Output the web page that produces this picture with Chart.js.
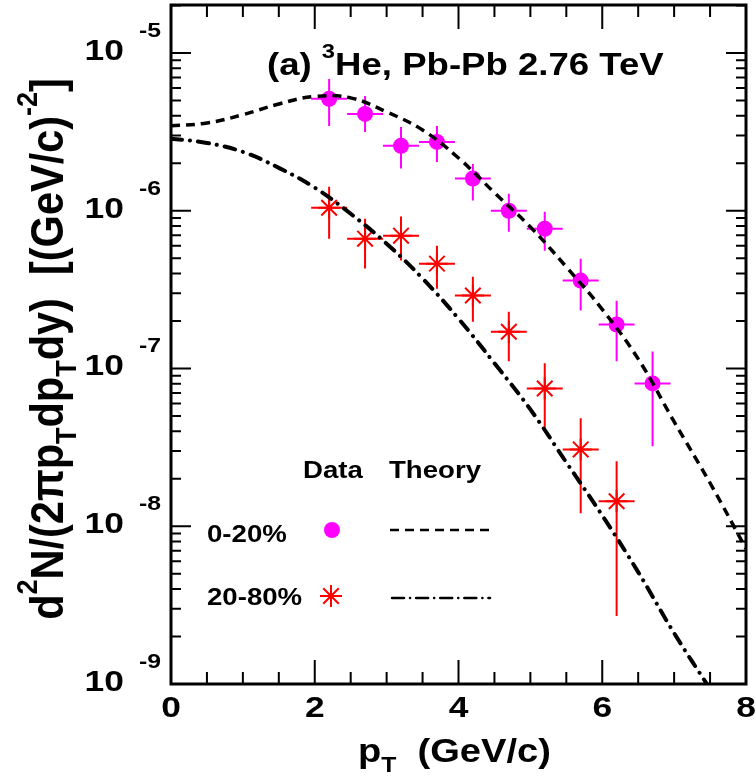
<!DOCTYPE html>
<html>
<head>
<meta charset="utf-8">
<script src="https://cdn.jsdelivr.net/npm/chart.js@4.4.1/dist/chart.umd.min.js"></script>
<style>
  body { margin: 0; background: #fff; }
  canvas { display: block; }
</style>
</head>
<body>
<canvas id="chart" width="755" height="779"></canvas>
<script>
// 3He spectra, Pb-Pb 2.76 TeV
const ptData = [2.2, 2.7, 3.2, 3.7, 4.2, 4.7, 5.2, 5.7, 6.2, 6.7];
const ptHalfWidth = 0.25;

const central = [5.12e-6, 4.11e-6, 2.58e-6, 2.73e-6, 1.60e-6, 1.0e-6, 7.69e-7, 3.61e-7, 1.90e-7, 8.04e-8];
const centralHi = [6.84e-6, 5.34e-6, 3.40e-6, 3.45e-6, 1.98e-6, 1.28e-6, 9.86e-7, 4.97e-7, 2.69e-7, 1.28e-7];
const centralLo = [3.45e-6, 3.16e-6, 1.85e-6, 2.04e-6, 1.16e-6, 7.36e-7, 5.58e-7, 2.33e-7, 1.11e-7, 3.21e-8];

const periph = [1.045e-6, 6.65e-7, 6.95e-7, 4.62e-7, 2.9e-7, 1.71e-7, 7.47e-8, 3.07e-8, 1.44e-8];
const periphHi = [1.42e-6, 8.9e-7, 9.2e-7, 6.0e-7, 3.82e-7, 2.29e-7, 1.08e-7, 4.83e-8, 2.58e-8];
const periphLo = [6.65e-7, 4.3e-7, 4.83e-7, 3.2e-7, 1.98e-7, 1.11e-7, 4.17e-8, 1.21e-8, 2.7e-9];

const theoryPt = [0, 0.5, 1, 1.5, 2, 2.5, 3, 3.5, 4, 4.5, 5, 5.5, 6, 6.5, 7, 7.5, 8];
const theoryCentral = [3.45e-6, 3.6e-6, 4.06e-6, 4.75e-6, 5.3e-6, 5.19e-6, 4.23e-6, 3.25e-6, 2.16e-6, 1.30e-6,
  7.89e-7, 4.4e-7, 2.37e-7, 1.15e-7, 4.6e-8, 1.88e-8, 7.2e-9];
const theoryPeriph = [2.86e-6, 2.69e-6, 2.36e-6, 1.87e-6, 1.40e-6, 9.57e-7, 6.18e-7, 3.72e-7, 2.07e-7, 1.08e-7,
  5.5e-8, 2.54e-8, 1.17e-8, 5.12e-9, 2.1e-9, 9.3e-10];

const xTickLabels = ["0", "2", "4", "6", "8"];
const yDecades = [-9, -8, -7, -6, -5];
const legendRows = ["0-20%", "20-80%"];

const FONT = '"Liberation Sans", Arial, Helvetica, sans-serif';
const MAGENTA = "#ff00ff";
const RED = "#ff0000";
const DASH = [9, 6];
const DASHDOT = [11, 8, 0.1, 8];

function fnt(size) {
  return "bold " + size + "px " + FONT;
}

// text with super/subscripts, parts = [[text, kind]]
function richWidth(ctx, parts, size) {
  let w = 0;
  for (const p of parts) {
    ctx.font = fnt(p[1] ? size * 0.65 : size);
    w += ctx.measureText(p[0]).width;
  }
  return w;
}

function drawRich(ctx, parts, x, y, size, align, sx, rot) {
  ctx.save();
  ctx.translate(x, y);
  ctx.scale(sx, 1);
  if (rot) ctx.rotate(-Math.PI / 2);
  const w = richWidth(ctx, parts, size);
  let cx = align === "center" ? -w / 2 : align === "right" ? -w : 0;
  ctx.textAlign = "left";
  ctx.textBaseline = "alphabetic";
  ctx.fillStyle = "#000";
  for (const p of parts) {
    let dy = 0;
    if (p[1] === "sup") dy = -size * 0.55;
    if (p[1] === "sub") dy = size * 0.28;
    ctx.font = fnt(p[1] ? size * 0.65 : size);
    ctx.fillText(p[0], cx, dy);
    cx += ctx.measureText(p[0]).width;
  }
  ctx.restore();
}

function drawStar(ctx, x, y, r) {
  const d = r * Math.SQRT1_2;
  ctx.beginPath();
  ctx.moveTo(x - r, y); ctx.lineTo(x + r, y);
  ctx.moveTo(x, y - r); ctx.lineTo(x, y + r);
  ctx.moveTo(x - d, y - d); ctx.lineTo(x + d, y + d);
  ctx.moveTo(x - d, y + d); ctx.lineTo(x + d, y - d);
  ctx.stroke();
}

const errorBars = {
  id: "errorBars",
  beforeDatasetsDraw(chart) {
    const { ctx, chartArea: a, scales: { x, y } } = chart;
    ctx.save();
    ctx.beginPath();
    ctx.rect(a.left, a.top, a.right - a.left, a.bottom - a.top);
    ctx.clip();
    ctx.lineWidth = 2;
    const sets = [
      [central, centralLo, centralHi, MAGENTA],
      [periph, periphLo, periphHi, RED]
    ];
    for (const [vals, lo, hi, col] of sets) {
      ctx.strokeStyle = col;
      vals.forEach((v, i) => {
        const px = x.getPixelForValue(ptData[i]);
        const py = y.getPixelForValue(v);
        ctx.beginPath();
        ctx.moveTo(px, y.getPixelForValue(lo[i]));
        ctx.lineTo(px, y.getPixelForValue(hi[i]));
        ctx.moveTo(x.getPixelForValue(ptData[i] - ptHalfWidth), py);
        ctx.lineTo(x.getPixelForValue(ptData[i] + ptHalfWidth), py);
        ctx.stroke();
      });
    }
    ctx.restore();
  }
};

const rootFrame = {
  id: "rootFrame",
  afterDraw(chart) {
    const { ctx, chartArea: a, scales: { x, y } } = chart;
    ctx.save();

    // ticks, pointing inwards on all four sides
    ctx.strokeStyle = "#000";
    ctx.lineWidth = 2;
    ctx.beginPath();
    for (let v = 0; v <= 8; v += 0.5) {
      const px = x.getPixelForValue(v);
      const len = v % 2 === 0 ? 24 : 12;
      ctx.moveTo(px, a.bottom); ctx.lineTo(px, a.bottom - len);
      ctx.moveTo(px, a.top); ctx.lineTo(px, a.top + len);
    }
    for (const d of yDecades) {
      for (let k = 1; k <= 9; k++) {
        const v = k * Math.pow(10, d);
        if (v > y.max) break;
        const py = y.getPixelForValue(v);
        const len = k === 1 ? 20 : 10;
        ctx.moveTo(a.left, py); ctx.lineTo(a.left + len, py);
        ctx.moveTo(a.right, py); ctx.lineTo(a.right - len, py);
      }
    }
    ctx.stroke();

    // frame
    ctx.lineWidth = 3;
    ctx.strokeRect(a.left, a.top, a.right - a.left, a.bottom - a.top);

    // y tick labels 10^n
    for (const d of yDecades) {
      const py = y.getPixelForValue(Math.pow(10, d));
      drawRich(ctx, [["10", ""]], 124, py + 7, 30, "right", 1.18);
      drawRich(ctx, [[String(d), ""]], 139, py - 16, 21, "left", 1.18);
    }
    // x tick labels
    xTickLabels.forEach(t => {
      drawRich(ctx, [[t, ""]], x.getPixelForValue(Number(t)), 717, 30, "center", 1.18);
    });

    // axis titles
    drawRich(ctx, [["p", ""], ["T", "sub"], ["  (GeV/c)", ""]], 358, 762, 34, "left", 1.12);
    const yParts = [["d", ""], ["2", "sup"], ["N/(2\u03c0p", ""], ["T", "sub"], ["dp", ""], ["T", "sub"],
      ["dy)  [(GeV/c)", ""], ["-2", "sup"], ["]", ""]];
    const ySize = 40 * 542 / richWidth(ctx, yParts, 40);
    drawRich(ctx, yParts, 63, 349, ySize, "center", 1.12, true);

    // panel label
    drawRich(ctx, [["(a) ", ""], ["3", "sup"], ["He, Pb-Pb 2.76 TeV", ""]], 267, 75, 31, "left", 1.18);

    // legend
    drawRich(ctx, [["Data", ""]], 303, 478, 24, "left", 1.15);
    drawRich(ctx, [["Theory", ""]], 389, 478, 24, "left", 1.15);
    drawRich(ctx, [[legendRows[0], ""]], 207, 542, 24, "left", 1.15);
    drawRich(ctx, [[legendRows[1], ""]], 207, 605, 24, "left", 1.15);

    ctx.fillStyle = MAGENTA;
    ctx.beginPath();
    ctx.arc(332, 530, 8, 0, Math.PI * 2);
    ctx.fill();
    ctx.strokeStyle = RED;
    ctx.lineWidth = 2;
    drawStar(ctx, 331, 596, 11);

    ctx.strokeStyle = "#000";
    ctx.lineWidth = 2.5;
    ctx.setLineDash(DASH);
    ctx.beginPath();
    ctx.moveTo(390, 530); ctx.lineTo(491, 530);
    ctx.stroke();
    ctx.setLineDash([12, 6, 0.1, 6]);
    ctx.lineCap = "round";
    ctx.beginPath();
    ctx.moveTo(392, 598); ctx.lineTo(490, 598);
    ctx.stroke();

    ctx.restore();
  }
};

const toXY = (xs, ys) => ys.map((v, i) => ({ x: xs[i], y: v }));

new Chart(document.getElementById("chart"), {
  type: "scatter",
  data: {
    datasets: [
      {
        type: "line",
        label: "Theory 0-20%",
        data: toXY(theoryPt, theoryCentral),
        borderColor: "#000",
        borderWidth: 3.5,
        borderDash: DASH,
        pointRadius: 0,
        tension: 0.4,
        fill: false,
        order: 0
      },
      {
        type: "line",
        label: "Theory 20-80%",
        data: toXY(theoryPt, theoryPeriph),
        borderColor: "#000",
        borderWidth: 4,
        borderDash: DASHDOT,
        borderCapStyle: "round",
        pointRadius: 0,
        tension: 0.4,
        fill: false,
        order: 0
      },
      {
        label: "Data 0-20%",
        data: toXY(ptData, central),
        pointStyle: "circle",
        pointRadius: 8,
        pointBackgroundColor: MAGENTA,
        pointBorderWidth: 0,
        showLine: false,
        order: 1
      },
      {
        label: "Data 20-80%",
        data: toXY(ptData, periph),
        pointStyle: "star",
        pointRadius: 11,
        pointBorderColor: RED,
        pointBorderWidth: 2,
        showLine: false,
        order: 1
      }
    ]
  },
  options: {
    responsive: false,
    animation: false,
    layout: { autoPadding: false, padding: { left: 171, right: 9, top: 5, bottom: 95 } },
    plugins: { legend: { display: false }, tooltip: { enabled: false } },
    scales: {
      x: { type: "linear", min: 0, max: 8, display: false },
      y: { type: "logarithmic", min: 1e-9, max: 2.014e-5, display: false }
    }
  },
  plugins: [errorBars, rootFrame]
});
</script>
</body>
</html>
